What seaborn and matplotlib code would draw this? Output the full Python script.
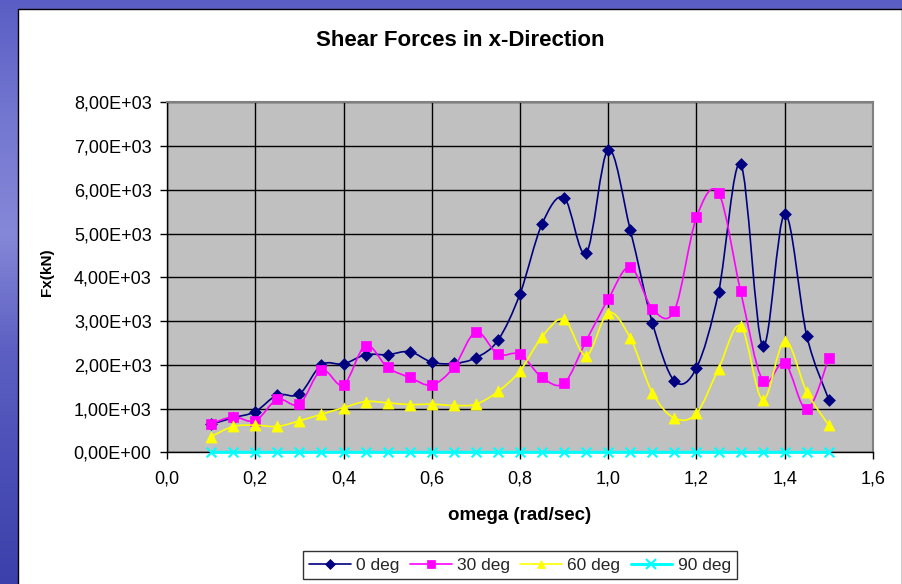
import numpy as np
import matplotlib
matplotlib.use("Agg")
import matplotlib.pyplot as plt
from matplotlib.path import Path
from matplotlib.patches import PathPatch, Rectangle
from matplotlib.lines import Line2D
from matplotlib.colors import LinearSegmentedColormap
import seaborn as sns

# ---- data -------------------------------------------------------------
omega = [0.10, 0.15, 0.20, 0.25, 0.30, 0.35, 0.40, 0.45, 0.50, 0.55,
         0.60, 0.65, 0.70, 0.75, 0.80, 0.85, 0.90, 0.95, 1.00, 1.05,
         1.10, 1.15, 1.20, 1.25, 1.30, 1.35, 1.40, 1.45, 1.50]

fx_0deg = [640, 790, 930, 1310, 1330, 2000, 2020, 2230, 2230, 2300,
           2060, 2030, 2160, 2560, 3620, 5220, 5820, 4550, 6920, 5080,
           2960, 1630, 1930, 3660, 6590, 2430, 5450, 2660, 1200]
fx_30deg = [650, 810, 720, 1210, 1100, 1880, 1540, 2440, 1940, 1710,
            1540, 1940, 2750, 2240, 2240, 1710, 1580, 2550, 3500, 4240,
            3280, 3240, 5370, 5930, 3680, 1640, 2040, 980, 2150]
fx_60deg = [360, 590, 620, 590, 720, 870, 1020, 1160, 1130, 1090,
            1100, 1070, 1100, 1390, 1860, 2640, 3040, 2210, 3190, 2610,
            1360, 780, 890, 1910, 2890, 1200, 2550, 1380, 620]
fx_90deg = [0, 0, 0, 0, 0, 0, 0, 0, 0, 0,
            0, 0, 0, 0, 0, 0, 0, 0, 0, 0,
            0, 0, 0, 0, 0, 0, 0, 0, 0]

series_names = ["0 deg", "30 deg", "60 deg", "90 deg"]
series_values = [fx_0deg, fx_30deg, fx_60deg, fx_90deg]

x_ticks = [0.0, 0.2, 0.4, 0.6, 0.8, 1.0, 1.2, 1.4, 1.6]
x_tick_labels = ["0,0", "0,2", "0,4", "0,6", "0,8", "1,0", "1,2", "1,4", "1,6"]
y_ticks = [0, 1000, 2000, 3000, 4000, 5000, 6000, 7000, 8000]
y_tick_labels = ["0,00E+00", "1,00E+03", "2,00E+03", "3,00E+03", "4,00E+03",
                 "5,00E+03", "6,00E+03", "7,00E+03", "8,00E+03"]

# ---- styling ----------------------------------------------------------
sns.set_theme(style="white")
plt.rcParams["font.family"] = ["Liberation Sans", "DejaVu Sans"]

styles = [
    dict(color="#000080", marker="D", ms=6.0, lw=1.2, mew=0.5),
    dict(color="#FF00FF", marker="s", ms=6.5, lw=1.2, mew=0.5),
    dict(color="#FFFF00", marker="^", ms=8.0, lw=1.2, mew=0.5),
    dict(color="#00FFFF", marker="x", ms=7.0, lw=2.2, mew=1.5),
]

W, H = 903, 584
fig = plt.figure(figsize=(W / 100, H / 100), dpi=100)

# slide background
bg = fig.add_axes([0, 0, 1, 1], zorder=-10)
cmap = LinearSegmentedColormap.from_list(
    "slide", ["#5a5ec4", "#7477d0", "#8587d8", "#5d60c2", "#4a4eb6", "#3c40aa"])
bg.imshow(np.linspace(0, 1, 256).reshape(-1, 1), aspect="auto", cmap=cmap,
          extent=[0, 1, 0, 1])
bg.set_axis_off()

# white chart panel
fig.patches.append(Rectangle((18 / W, -0.01), (902 - 18) / W, (H - 9) / H + 0.01,
                             transform=fig.transFigure, facecolor="white",
                             edgecolor="black", lw=1.0, zorder=-5))

left, right, top, bottom = 167, 873, 102.3, 452.3
ax = fig.add_axes([left / W, (H - bottom) / H, (right - left) / W, (bottom - top) / H])
ax.set_facecolor("#C0C0C0")


def smooth_path(xs, ys):
    """Cubic Bezier path through the points (Catmull-Rom style tangents)."""
    pts = np.column_stack([xs, ys]).astype(float)
    n = len(pts)
    verts = [pts[0]]
    codes = [Path.MOVETO]
    for i in range(n - 1):
        p0 = pts[i - 1] if i > 0 else pts[i]
        p1 = pts[i]
        p2 = pts[i + 1]
        p3 = pts[i + 2] if i + 2 < n else pts[i + 1]
        c1 = p1 + (p2 - p0) / 6.0
        c2 = p2 - (p3 - p1) / 6.0
        verts += [c1, c2, p2]
        codes += [Path.CURVE4] * 3
    return Path(verts, codes)


for k, (name, vals, st) in enumerate(zip(series_names, series_values, styles)):
    ax.add_patch(PathPatch(smooth_path(omega, vals), facecolor="none",
                           edgecolor=st["color"], lw=st["lw"], zorder=3 + k,
                           clip_on=False))
    if st["marker"] == "x":
        sns.scatterplot(x=omega, y=vals, marker="x", color=st["color"],
                        s=st["ms"] ** 2, linewidth=st["mew"], ax=ax,
                        zorder=3.5 + k, clip_on=False, legend=False)
    else:
        sns.scatterplot(x=omega, y=vals, marker=st["marker"], color=st["color"],
                        edgecolor=st["color"], s=st["ms"] ** 2, linewidth=st["mew"],
                        ax=ax, zorder=3.5 + k, clip_on=False, legend=False)

ax.set_xlim(0, 1.6)
ax.set_ylim(0, 8000)
ax.set_xticks(x_ticks)
ax.set_xticklabels(x_tick_labels)
ax.set_yticks(y_ticks)
ax.set_yticklabels(y_tick_labels)
ax.grid(True, color="black", lw=1.0)
ax.set_axisbelow(True)
ax.tick_params(axis="both", which="major", direction="out", length=5, width=1.0,
               color="black", labelsize=13, labelcolor="black")
ax.tick_params(axis="y", pad=6)
ax.tick_params(axis="x", pad=8)
ax.tick_params(left=True, bottom=True)
for side in ("left", "bottom"):
    ax.spines[side].set_color("black")
    ax.spines[side].set_linewidth(1.0)
for side in ("top", "right"):
    ax.spines[side].set_color("#808080")
    ax.spines[side].set_linewidth(1.5)
ax.set_xlabel("")
ax.set_ylabel("")

fig.text(460 / W, 1 - 40 / H, "Shear Forces in x-Direction", ha="center",
         va="center", fontsize=16, fontweight="bold", color="black")
fig.text(520 / W, 1 - 515 / H, "omega (rad/sec)", ha="center", va="center",
         fontsize=13.5, fontweight="bold", color="black")
fig.text(47 / W, 1 - 272 / H, "Fx(kN)", ha="center", va="center", rotation=90,
         fontsize=11, fontweight="bold", color="black")

handles = [Line2D([], [], color=st["color"], marker=st["marker"], lw=st["lw"],
                  ms=st["ms"] * (0.8 if st["marker"] != "x" else 1.0),
                  mew=st["mew"], mec=st["color"], mfc=st["color"])
           for st in styles]
leg = fig.legend(handles, series_names, loc="center", ncol=4,
                 bbox_to_anchor=(520 / W, 1 - 565 / H), fontsize=12.5,
                 frameon=True, fancybox=False, edgecolor="black",
                 handlelength=2.4, handletextpad=0.3, columnspacing=0.6,
                 borderpad=0.35)
leg.get_frame().set_linewidth(1.0)

fig.savefig("out.png", dpi=100)
